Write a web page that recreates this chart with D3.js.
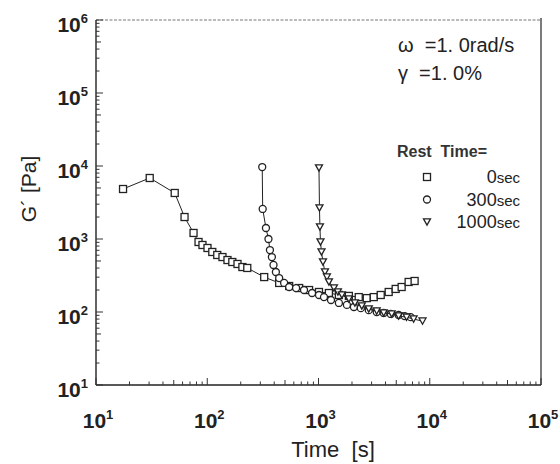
<!DOCTYPE html>
<html>
<head>
<meta charset="utf-8">
<script src="https://cdn.jsdelivr.net/npm/d3@7"></script>
<style>
  body { margin: 0; background: #fff; }
  svg { display: block; font-family: "Liberation Sans", Arial, sans-serif; }
</style>
</head>
<body>
<svg id="chart" width="560" height="464"></svg>
<script>
// rest time 0 sec (squares)
const t0 = [17.5, 30.4, 51, 62.5, 75.3, 83.5, 90.6, 100.5, 111, 123, 137, 152, 168, 187, 207, 229,
    325, 443, 545, 670, 823, 1010, 1240, 1525, 1875, 2300, 2715, 3140, 3625, 4275, 4940, 5590, 6460, 7310];
const g0 = [4840, 6850, 4270, 2000, 1210, 910, 828, 753, 664, 604, 566, 515, 484, 455, 413, 401,
    301, 250, 227, 213, 200, 188, 182, 171, 166, 160, 155, 160, 171, 188, 207, 220, 258, 266];

// rest time 300 sec (circles)
const t300 = [312, 315, 337, 355, 366, 381, 394, 414, 443, 491, 545, 629, 741, 875, 1010, 1120, 1295,
    1525, 1800, 2080, 2400, 2830, 3335, 3855, 4460, 5250, 5940, 6730];
const g300 = [9680, 2580, 1415, 1000, 706, 566, 441, 353, 292, 250, 220, 213, 200, 182, 171, 160, 146,
    133, 125, 117, 113, 106, 100, 97, 94, 91, 88, 85];

// rest time 1000 sec (triangles)
const t1000 = [1010, 1020, 1030, 1042, 1064, 1097, 1143, 1190, 1241, 1376, 1494, 1623, 1875, 2124,
    2450, 2830, 3335, 3855, 4550, 5250, 6190, 7160, 8610];
const g1000 = [9400, 2660, 1460, 910, 664, 484, 353, 301, 258, 213, 188, 171, 151, 133,
    121, 110, 103, 97, 94, 88, 85, 80, 75];

const xDecades = [1, 2, 3, 4, 5];
const yDecades = [1, 2, 3, 4, 5, 6];

const legendRows = [
    {shape: "square", num: "0", unit: "sec"},
    {shape: "circle", num: "300", unit: "sec"},
    {shape: "triangle", num: "1000", unit: "sec"}
];

const svg = d3.select("#chart");
const plotL = 96, plotR = 541, plotT = 20, plotB = 385;

const x = d3.scaleLog().domain([10, 1e5]).range([plotL, plotR]);
const y = d3.scaleLog().domain([10, 1e6]).range([plotB, plotT]);

// frame
svg.append("line").attr("x1", plotL).attr("x2", plotR).attr("y1", plotT).attr("y2", plotT)
    .attr("stroke", "#777").attr("stroke-width", 1).attr("stroke-dasharray", "3,1.5");
svg.append("line").attr("x1", plotR).attr("x2", plotR).attr("y1", plotT - 2).attr("y2", plotB)
    .attr("stroke", "#333").attr("stroke-width", 1.3);
svg.append("line").attr("x1", plotL).attr("x2", plotL).attr("y1", plotT).attr("y2", plotB)
    .attr("stroke", "#222").attr("stroke-width", 1.4);
svg.append("line").attr("x1", plotL).attr("x2", plotR).attr("y1", plotB).attr("y2", plotB)
    .attr("stroke", "#222").attr("stroke-width", 1.4);

// ticks (inside)
const isMajor = v => Math.abs(Math.log10(v) - Math.round(Math.log10(v))) < 1e-6;
const tickLen = v => {
    if (isMajor(v)) return 7;
    let m = Math.round(v / Math.pow(10, Math.floor(Math.log10(v) + 1e-9)));
    return m === 5 ? 5 : 3.5;
};
y.ticks().forEach(v => {
    svg.append("line").attr("x1", plotL).attr("x2", plotL + tickLen(v))
        .attr("y1", y(v)).attr("y2", y(v)).attr("stroke", "#333").attr("stroke-width", 1);
});
x.ticks().forEach(v => {
    svg.append("line").attr("x1", x(v)).attr("x2", x(v))
        .attr("y1", plotB).attr("y2", plotB - tickLen(v)).attr("stroke", "#333").attr("stroke-width", 1);
});

// tick labels
yDecades.forEach(d => {
    let t = svg.append("text").attr("x", 88).attr("y", y(Math.pow(10, d)) + 12)
        .attr("text-anchor", "end").attr("font-size", 21).attr("font-weight", "bold").attr("fill", "#222");
    t.append("tspan").text("10");
    t.append("tspan").attr("dy", -9).attr("font-size", 13).text(d);
});
xDecades.forEach(d => {
    let t = svg.append("text").attr("x", x(Math.pow(10, d)) + 2).attr("y", 428)
        .attr("text-anchor", "middle").attr("font-size", 21).attr("font-weight", "bold").attr("fill", "#222");
    t.append("tspan").text("10");
    t.append("tspan").attr("dy", -9).attr("font-size", 13).text(d);
});

// axis titles
svg.append("text").attr("x", 333).attr("y", 457).attr("text-anchor", "middle")
    .attr("font-size", 22).attr("fill", "#222").attr("xml:space", "preserve").text("Time  [s]");
svg.append("text").attr("transform", "translate(36,189) rotate(-90)").attr("text-anchor", "middle")
    .attr("font-size", 21).attr("fill", "#222").attr("xml:space", "preserve").text("G\u00B4 [Pa]");

// series
const line = d3.line().x(d => x(d[0])).y(d => y(d[1]));
const series = [
    {t: t0, g: g0, shape: "square"},
    {t: t300, g: g300, shape: "circle"},
    {t: t1000, g: g1000, shape: "triangle"}
];

const drawMarker = (g, shape, cx, cy, s) => {
    if (shape === "square") {
        g.append("rect").attr("x", cx - s / 2).attr("y", cy - s / 2).attr("width", s).attr("height", s)
            .attr("fill", "#fff").attr("stroke", "#222").attr("stroke-width", 1.3);
    } else if (shape === "circle") {
        g.append("circle").attr("cx", cx).attr("cy", cy).attr("r", s / 2)
            .attr("fill", "#fff").attr("stroke", "#222").attr("stroke-width", 1.3);
    } else {
        let h = s * 0.9;
        g.append("path").attr("d", `M${cx - s / 2},${cy - h / 2}L${cx + s / 2},${cy - h / 2}L${cx},${cy + h / 2}Z`)
            .attr("fill", "#fff").attr("stroke", "#222").attr("stroke-width", 1.3);
    }
};

series.forEach(s => {
    const pts = s.t.map((t, i) => [t, s.g[i]]);
    svg.append("path").datum(pts).attr("d", line).attr("fill", "none")
        .attr("stroke", "#222").attr("stroke-width", 1);
    const gm = svg.append("g");
    pts.forEach(p => drawMarker(gm, s.shape, x(p[0]), y(p[1]), 7));
});

// annotations
svg.append("text").attr("x", 398).attr("y", 52).attr("font-size", 20).attr("fill", "#222")
    .attr("xml:space", "preserve").text("\u03C9  =1. 0rad/s");
svg.append("text").attr("x", 398).attr("y", 80).attr("font-size", 20).attr("fill", "#222")
    .attr("xml:space", "preserve").text("\u03B3  =1. 0%");

svg.append("text").attr("x", 397).attr("y", 157).attr("font-size", 16).attr("font-weight", "bold")
    .attr("fill", "#333").attr("xml:space", "preserve").text("Rest  Time=");
legendRows.forEach((r, i) => {
    let cy = 177 + i * 22.5;
    drawMarker(svg, r.shape, 427, cy, 7);
    let t = svg.append("text").attr("x", 520).attr("y", cy + 6).attr("text-anchor", "end")
        .attr("fill", "#222");
    t.append("tspan").attr("font-size", 18).text(r.num);
    t.append("tspan").attr("font-size", 15).text(r.unit);
});
</script>
</body>
</html>
